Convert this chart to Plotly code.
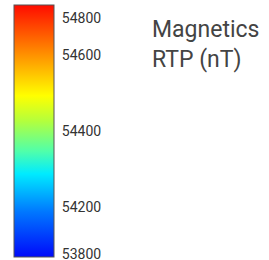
import plotly.graph_objects as go

# Colour stretch (histogram-equalised): value labels and their cumulative fraction along the bar
tick_values = [53800, 54200, 54400, 54600, 54800]
stretch_fraction = [0.01, 0.2, 0.5, 0.8, 0.95]

# Colour ramp stops (fraction along bar, colour)
ramp_stops = [0.0, 0.18, 0.33, 0.42, 0.54, 0.64, 0.78, 1.0]
ramp_colors = ["rgb(0,10,250)", "rgb(0,120,255)", "rgb(0,235,255)", "rgb(80,255,170)",
               "rgb(180,255,60)", "rgb(255,255,0)", "rgb(255,160,0)", "rgb(255,12,0)"]

title_lines = ["Magnetics", "RTP (nT)"]

W, H = 269, 260

fig = go.Figure()
fig.add_trace(go.Scatter(
    x=[0, 0], y=[0, 0], mode="markers",
    marker=dict(
        color=[0, 1], cmin=0, cmax=1,
        colorscale=[[s, c] for s, c in zip(ramp_stops, ramp_colors)],
        size=1, opacity=0,
        showscale=True,
        colorbar=dict(
            x=14 / W, xanchor="left", y=1 - 5 / H, yanchor="top",
            thickness=40, thicknessmode="pixels",
            len=252, lenmode="pixels",
            xpad=0, ypad=0,
            outlinewidth=1, outlinecolor="#555",
            tickvals=stretch_fraction,
            ticktext=[str(v) for v in tick_values],
            ticks="outside", ticklen=5, tickcolor="rgba(0,0,0,0)",
            ticklabeloverflow="allow",
            tickfont=dict(family="Roboto", size=14, color="#333"),
        ),
    ),
    hoverinfo="skip", showlegend=False,
))

fig.add_annotation(
    text="<br>".join(title_lines), xref="paper", yref="paper",
    x=150 / W, y=1 - 44 / H, xanchor="left", yanchor="middle", align="left",
    showarrow=False, font=dict(family="Roboto", size=23, color="#444"),
)

fig.update_layout(
    width=W, height=H, margin=dict(l=0, r=0, t=0, b=0, pad=0, autoexpand=False),
    paper_bgcolor="white", plot_bgcolor="white",
    xaxis=dict(visible=False, range=[10, 11]),
    yaxis=dict(visible=False, range=[10, 11]),
)

fig.write_html("out.html", config={"displayModeBar": False},
               post_script="document.body.style.margin='0';")
